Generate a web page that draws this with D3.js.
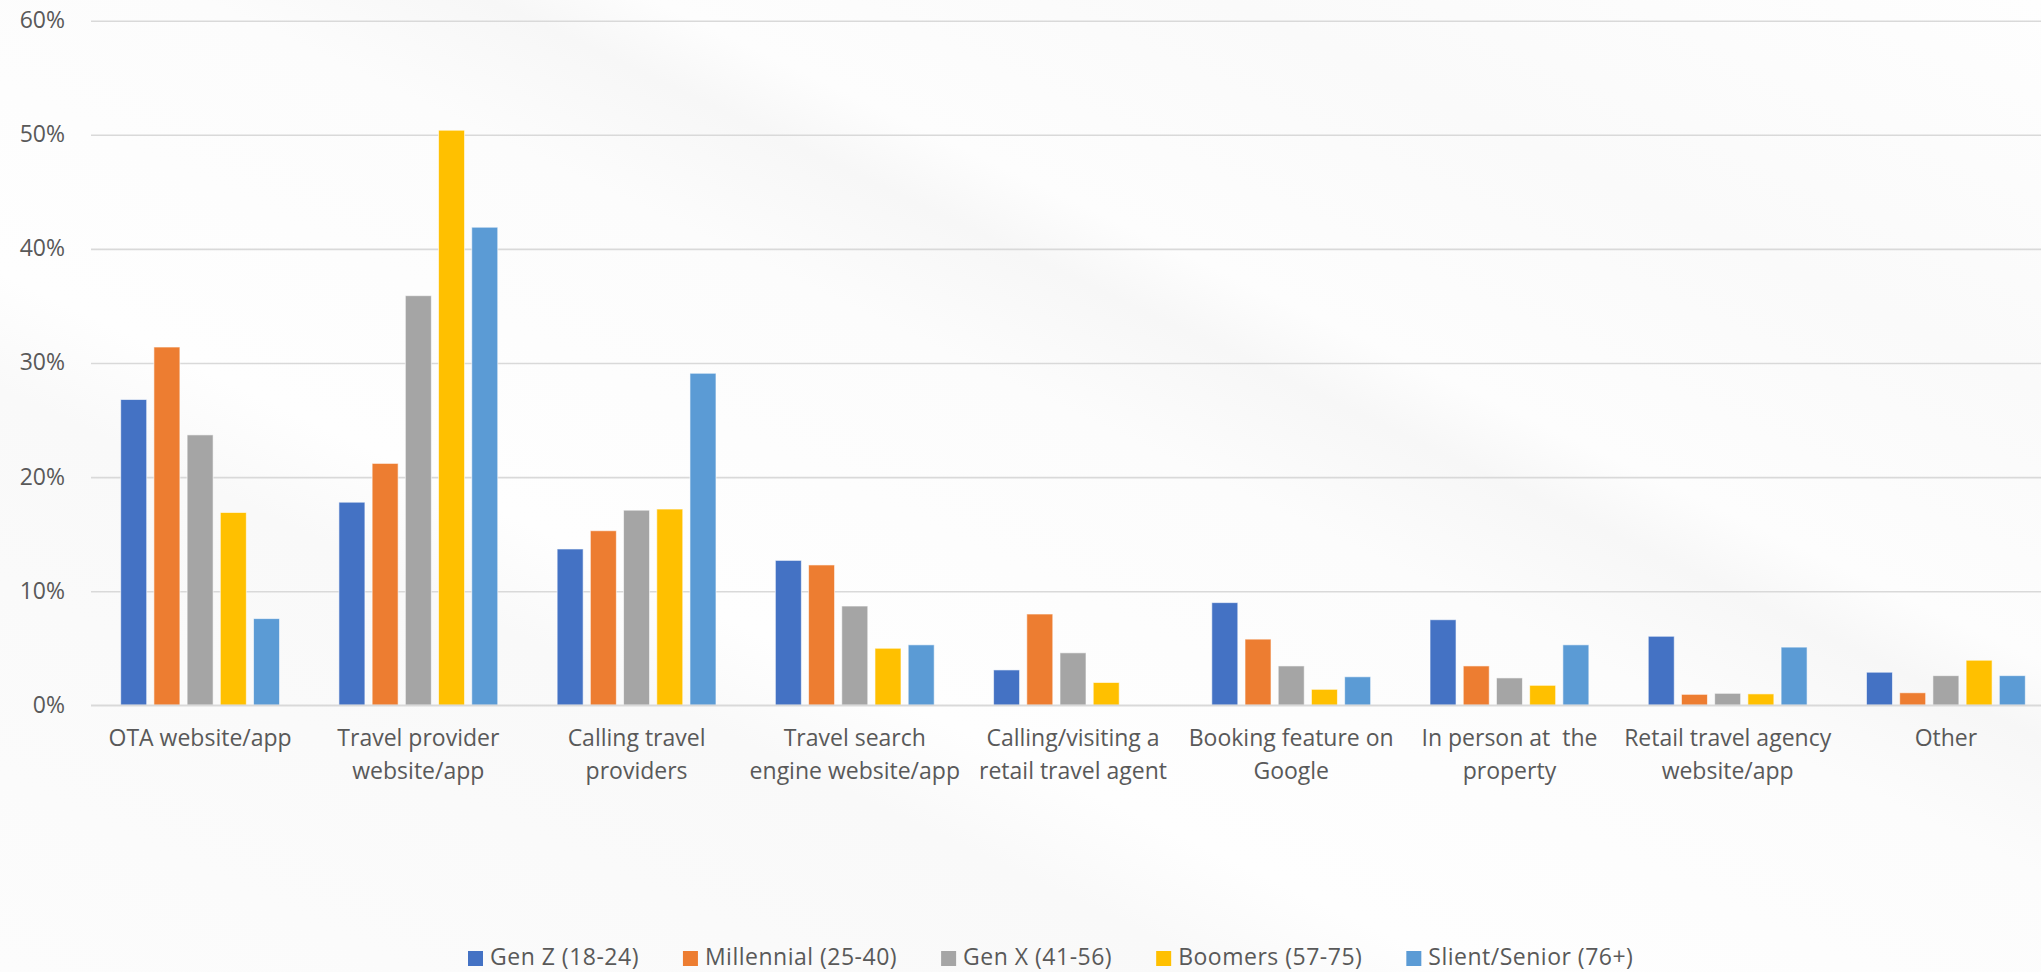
<!doctype html>
<html>
<head>
    <script src="https://d3js.org/d3.v7.min.js"></script>
</head>
<style>
    body {
        margin: 0;
        background: #fdfdfd;
    }

    svg text {
        fill: #595959;
        font: 23px "Open Sans", sans-serif;
        white-space: pre;
    }
</style>
<body>
    <script>
                var categories = ["OTA website/app", "Travel provider\nwebsite/app", "Calling travel\nproviders",
                    "Travel search\nengine website/app", "Calling/visiting a\nretail travel agent",
                    "Booking feature on\nGoogle", "In person at  the\nproperty",
                    "Retail travel agency\nwebsite/app", "Other"];

                var series = ["Gen Z (18-24)", "Millennial (25-40)", "Gen X (41-56)", "Boomers (57-75)", "Slient/Senior (76+)"];

                var genZ = [26.8, 17.8, 13.7, 12.7, 3.1, 9.0, 7.5, 6.05, 2.9];
                var millennial = [31.4, 21.2, 15.3, 12.3, 8.0, 5.8, 3.45, 0.96, 1.1];
                var genX = [23.7, 35.9, 17.1, 8.7, 4.6, 3.45, 2.4, 1.05, 2.6];
                var boomers = [16.9, 50.4, 17.2, 5.0, 2.0, 1.4, 1.75, 1.0, 3.95];
                var silent = [7.6, 41.9, 29.1, 5.3, 0, 2.5, 5.3, 5.1, 2.6];

                var yTicks = [0, 10, 20, 30, 40, 50, 60];

                var colors = ["#4472c4", "#ed7d31", "#a5a5a5", "#ffc000", "#5b9bd5"];

                var values = [genZ, millennial, genX, boomers, silent];

                var width = 2041,
                    height = 972;

                var svg = d3.select("body")
                          .append("svg")
                          .attr("width", width)
                          .attr("height", height);

                // faint diagonal background bands
                var defs = svg.append("defs");
                var grad = defs.append("linearGradient")
                    .attr("id", "bg")
                    .attr("x1", "0%").attr("y1", "100%")
                    .attr("x2", "100%").attr("y2", "0%");
                [[0, "#fcfcfc"], [0.3, "#f9f9f9"], [0.36, "#fefefe"], [0.55, "#fcfcfc"], [0.62, "#f7f7f7"],
                 [0.66, "#fdfdfd"], [0.8, "#fafafa"], [1, "#fefefe"]].forEach(function (s) {
                    grad.append("stop").attr("offset", s[0]).attr("stop-color", s[1]);
                });
                svg.append("rect")
                    .attr("width", width)
                    .attr("height", height)
                    .style("fill", "url(#bg)");

                var x0 = d3.scaleBand()
                        .domain(categories)
                        .range([91, 2055]);

                var x1 = d3.scaleBand()
                        .domain(series)
                        .range([0, x0.bandwidth()])
                        .paddingInner(0.217)
                        .paddingOuter(0.894);

                var y = d3.scaleLinear()
                        .domain([0, 60])
                        .range([705.3, 20.7]);

                // gridlines + y labels
                var yAxis = d3.axisLeft(y)
                        .tickValues(yTicks)
                        .tickSize(-(width - 91))
                        .tickPadding(26)
                        .tickFormat(function (d) { return d + "%"; });

                var ga = svg.append("g")
                    .attr("transform", "translate(91,0)")
                    .call(yAxis);
                ga.select(".domain").remove();
                ga.selectAll(".tick line")
                    .attr("stroke", "#d9d9d9")
                    .attr("stroke-width", 1.6);
                ga.selectAll(".tick text")
                    .attr("dy", "0.3em")
                    .style("font-size", "23px");

                var g = svg.selectAll(".group")
                          .data(categories)
                          .enter()
                          .append("g")
                          .attr("class", "group")
                          .attr("transform", function (d) {
                              return "translate(" + x0(d) + ",0)";
                          });

                g.selectAll("rect")
                    .data(function (d, i) {
                        return series.map(function (s, j) { return { s: s, v: values[j][i], c: colors[j] }; });
                    })
                    .enter()
                    .append("rect")
                    .attr("x", function (d) { return x1(d.s); })
                    .attr("y", function (d) { return y(d.v); })
                    .attr("width", x1.bandwidth())
                    .attr("height", function (d) { return y(0) - y(d.v); })
                    .style("fill", function (d) { return d.c; })
                    .style("stroke", "#ffffff")
                    .style("stroke-opacity", 0.6)
                    .style("stroke-width", 1);

                // redraw baseline on top of bars
                svg.append("line")
                    .attr("x1", 91).attr("x2", width)
                    .attr("y1", y(0)).attr("y2", y(0))
                    .attr("stroke", "#d9d9d9")
                    .attr("stroke-width", 1.6);

                // category labels
                var lab = g.append("text")
                    .attr("text-anchor", "middle")
                    .attr("transform", "translate(" + x0.bandwidth() / 2 + ",746)");
                lab.selectAll("tspan")
                    .data(function (d) { return d.split("\n"); })
                    .enter()
                    .append("tspan")
                    .attr("x", 0)
                    .attr("y", function (d, i) { return i * 33; })
                    .text(function (d) { return d; });

                // legend
                var legend = svg.append("g").attr("transform", "translate(0,951)");
                var lx = 468;
                series.forEach(function (s, i) {
                    var item = legend.append("g").attr("transform", "translate(" + lx + ",0)");
                    item.append("rect")
                        .attr("width", 15)
                        .attr("height", 15)
                        .style("fill", colors[i]);
                    var t = item.append("text")
                        .attr("x", 22)
                        .attr("y", 14)
                        .style("letter-spacing", "0.5px")
                        .text(s);
                    lx += 22 + t.node().getComputedTextLength() + 44;
                });

    </script>

</body>

</html>
